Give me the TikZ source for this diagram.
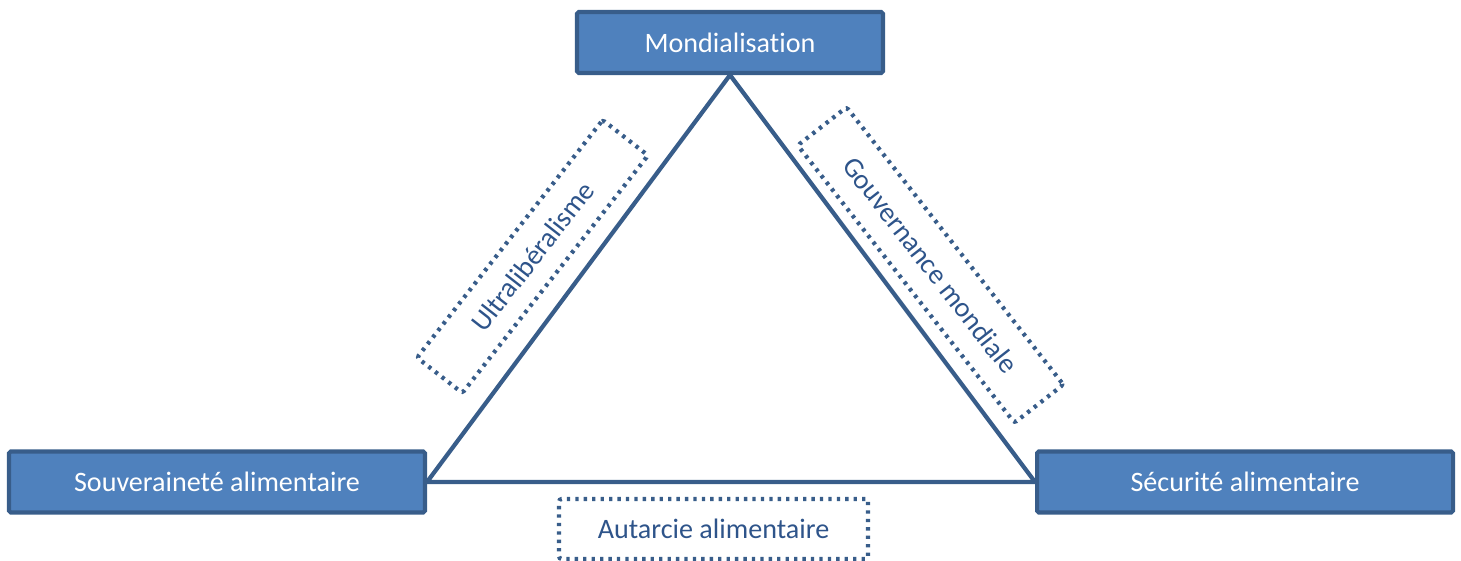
\documentclass[tikz,border=0pt]{standalone}
\usepackage{fontspec}
\setmainfont{Carlito}[Ligatures=NoCommon]
\usetikzlibrary{calc,positioning}

\definecolor{boxfill}{HTML}{4F81BD}
\definecolor{boxline}{HTML}{385D8A}
\definecolor{labtext}{HTML}{2E548A}

\tikzset{
  mainbox/.style={draw=boxline, fill=boxfill, line width=2.3pt, text=white,
    minimum height=1.22cm, inner sep=0pt, rounded corners=1pt,
    font=\fontsize{16}{19}\selectfont},
  dotbox/.style={draw=boxline, line width=2.4pt, dash pattern=on 1.9pt off 2.9pt,
    text=labtext, inner sep=0pt, rounded corners=1.5pt,
    font=\fontsize{16}{19}\selectfont},
  side/.style={draw=boxline, line width=2.4pt, line join=round}
}

\begin{document}
\begin{tikzpicture}
  \useasboundingbox (0,0) rectangle (29.22,11.2);
  % the three poles (filled boxes)
  \node[mainbox, minimum width=6.12cm] (mond) at (14.6,10.35) {Mondialisation};
  \node[mainbox, minimum width=8.32cm] (souv) at (4.34,1.56) {Souveraineté alimentaire};
  \node[mainbox, minimum width=8.32cm, right=12.16cm of souv] (secu) {Sécurité alimentaire};
  % triangle joining the poles
  \draw[side] (mond.south) -- (souv.east) -- (secu.west) -- cycle;
  % dotted labels along the sides
  \node[dotbox, minimum width=6.03cm, minimum height=1.15cm, rotate=52]
    (ultra) at ($(mond.south)!0.5!(souv.east)+(-0.92,0.44)$) {Ultralibéralisme};
  \node[dotbox, minimum width=7.04cm, minimum height=1.24cm, rotate=-52]
    (gouv) at ($(mond.south)!0.5!(secu.west)+(0.96,0.27)$) {Gouvernance mondiale};
  \node[dotbox, minimum width=6.18cm, minimum height=1.2cm]
    (autar) at ($(souv.east)!0.5!(secu.west)+(-0.35,-0.94)$) {Autarcie alimentaire};
\end{tikzpicture}
\end{document}
